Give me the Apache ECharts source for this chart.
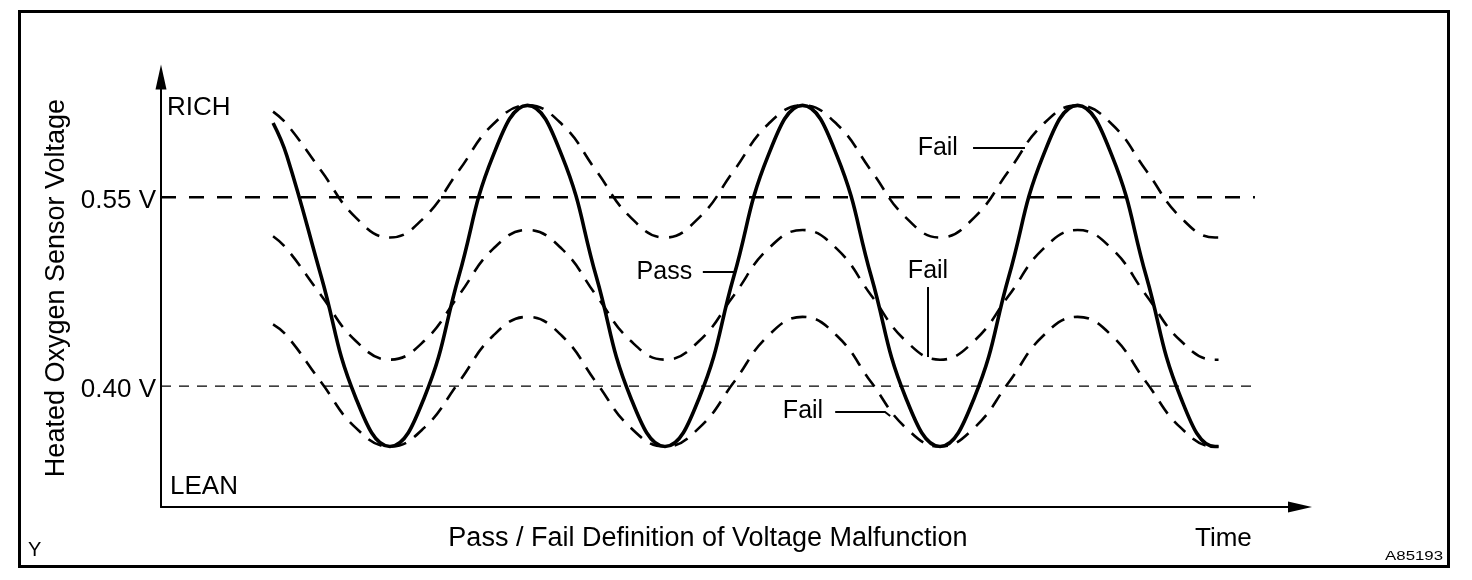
<!DOCTYPE html>
<html>
<head>
<meta charset="utf-8">
<script src="https://cdn.jsdelivr.net/npm/echarts@6/dist/echarts.min.js"></script>
<style>
html, body { margin: 0; padding: 0; background: #fff; }
#container { width: 1472px; height: 580px; }
</style>
</head>
<body>
<div id="container"></div>
<script>
// time in 1/8 of a sensor cycle, values in volts
var time     = [0.6, 1, 2, 3, 4, 5, 6, 7, 8, 9, 10, 11, 12, 13, 14, 15, 16, 17, 18, 19, 20, 21, 22, 23, 24, 25, 26, 27, 28, 28.1];
var pass     = [0.609, 0.583, 0.487, 0.391, 0.352, 0.391, 0.487, 0.583, 0.623, 0.583, 0.487, 0.391, 0.352, 0.391, 0.487, 0.583, 0.623, 0.583, 0.487, 0.391, 0.352, 0.391, 0.487, 0.583, 0.623, 0.583, 0.487, 0.391, 0.352, 0.352];
var failHigh = [0.618, 0.608, 0.571, 0.534, 0.518, 0.534, 0.571, 0.608, 0.623, 0.608, 0.571, 0.534, 0.518, 0.534, 0.571, 0.608, 0.623, 0.608, 0.571, 0.534, 0.518, 0.534, 0.571, 0.608, 0.623, 0.608, 0.571, 0.534, 0.518, 0.518];
var failMid  = [0.519, 0.509, 0.472, 0.436, 0.421, 0.436, 0.472, 0.509, 0.524, 0.509, 0.472, 0.436, 0.421, 0.436, 0.472, 0.509, 0.524, 0.509, 0.472, 0.436, 0.421, 0.436, 0.472, 0.509, 0.524, 0.509, 0.472, 0.436, 0.421, 0.421];
var failLow  = [0.449, 0.440, 0.403, 0.367, 0.352, 0.367, 0.403, 0.440, 0.455, 0.440, 0.403, 0.367, 0.352, 0.367, 0.403, 0.440, 0.455, 0.440, 0.403, 0.367, 0.352, 0.367, 0.403, 0.440, 0.455, 0.440, 0.403, 0.367, 0.352, 0.352];

var limits      = [0.55, 0.40];
var limitLabels = ['0.55 V', '0.40 V'];

var tMin = -2.66, tMax = 30.47, vMin = 0.304, vMax = 0.6455;
var limitEnd = 29.16;

// callouts: text anchor + leader line, in data units
var callouts = [
    {text: 'Fail', at: [20.52, 0.5891], align: 'right', line: [[20.96, 0.5891], [22.47, 0.5891]]},
    {text: 'Pass', at: [12.79, 0.4906], align: 'right', line: [[13.10, 0.4906], [14.04, 0.4906]]},
    {text: 'Fail', at: [19.65, 0.4914], align: 'center', line: [[19.65, 0.4787], [19.65, 0.4231]]},
    {text: 'Fail', at: [16.60, 0.3800], align: 'right', line: [[16.95, 0.3794], [18.40, 0.3794], [18.55, 0.3763]]}
];

var FONT = '"Liberation Sans", Arial, Helvetica, sans-serif';

function pairs(xs, ys) {
    var out = [];
    for (var i = 0; i < xs.length; i++) out.push([xs[i], ys[i]]);
    return out;
}

var dom     = document.getElementById('container');
var myChart = echarts.init(dom);

var dashed = function (name, ys) {
    return {
        name: name,
        type: 'line',
        data: pairs(time, ys),
        smooth: 0.45,
        symbol: 'none',
        z: 3,
        lineStyle: {color: '#000', width: 2.6, type: [15, 10]}
    };
};

var series = [
    {
        name: 'limit 0.55',
        type: 'line',
        data: [[tMin, limits[0]], [limitEnd, limits[0]]],
        symbol: 'none',
        z: 2,
        lineStyle: {color: '#000', width: 2.4, type: [15, 13]}
    },
    {
        name: 'limit 0.40',
        type: 'line',
        data: [[tMin, limits[1]], [limitEnd, limits[1]]],
        symbol: 'none',
        z: 2,
        lineStyle: {color: '#000', width: 1.2, type: [10, 8]}
    },
    dashed('Fail high', failHigh),
    dashed('Fail mid', failMid),
    dashed('Fail low', failLow),
    {
        name: 'Pass',
        type: 'line',
        data: pairs(time, pass),
        smooth: 0.45,
        symbol: 'none',
        z: 4,
        lineStyle: {color: '#000', width: 3.6}
    }
];

myChart.setOption({
    backgroundColor: '#fff',
    animation: false,
    grid: {left: 161, right: 172, top: 77, bottom: 73},
    xAxis: {
        type: 'value',
        min: tMin,
        max: tMax,
        axisLine: {
            onZero: false,
            symbol: ['none', 'triangle'],
            symbolSize: [11, 24],
            lineStyle: {color: '#000', width: 2}
        },
        axisTick: {show: false},
        axisLabel: {show: false},
        splitLine: {show: false}
    },
    yAxis: {
        type: 'value',
        min: vMin,
        max: vMax,
        axisLine: {
            show: true,
            onZero: false,
            symbol: ['none', 'triangle'],
            symbolSize: [11, 25],
            lineStyle: {color: '#000', width: 2}
        },
        axisTick: {show: false},
        axisLabel: {show: false},
        splitLine: {show: false}
    },
    series: series
});

function px(p) {
    return myChart.convertToPixel({gridIndex: 0}, p);
}

function txt(x, y, s, size, align, extra) {
    var el = {
        type: 'text',
        x: x,
        y: y,
        silent: true,
        style: {
            text: s,
            fill: '#000',
            font: size + 'px ' + FONT,
            align: align || 'left',
            verticalAlign: 'middle'
        }
    };
    if (extra) for (var k in extra) el[k] = extra[k];
    return el;
}

var g = [];

// frame
g.push({
    type: 'rect',
    silent: true,
    shape: {x: 19.5, y: 11.5, width: 1429, height: 555},
    style: {fill: 'none', stroke: '#000', lineWidth: 3}
});

// threshold labels
for (var i = 0; i < limits.length; i++) {
    var p = px([tMin, limits[i]]);
    g.push(txt(p[0] - 5, p[1] + 4, limitLabels[i], 26, 'right'));
}

// callouts
callouts.forEach(function (c) {
    var a = px(c.at);
    g.push(txt(a[0], a[1], c.text, 25, c.align));
    var pts = c.line.map(px);
    g.push({
        type: 'polyline',
        silent: true,
        shape: {points: pts},
        style: {fill: 'none', stroke: '#000', lineWidth: 2}
    });
});

// axis captions
g.push(txt(167, 108, 'RICH', 26, 'left'));
g.push(txt(170, 487, 'LEAN', 26, 'left'));
g.push(txt(57, 288, 'Heated Oxygen Sensor Voltage', 27, 'center', {rotation: Math.PI / 2}));
g.push(txt(708, 539, 'Pass / Fail Definition of Voltage Malfunction', 27, 'center'));
g.push(txt(1195, 539, 'Time', 26, 'left'));
g.push(txt(28, 550, 'Y', 20, 'left'));
g.push(txt(1443, 557, 'A85193', 12, 'right', {scaleX: 1.4}));

myChart.setOption({graphic: {elements: g}});
</script>
</body>
</html>
